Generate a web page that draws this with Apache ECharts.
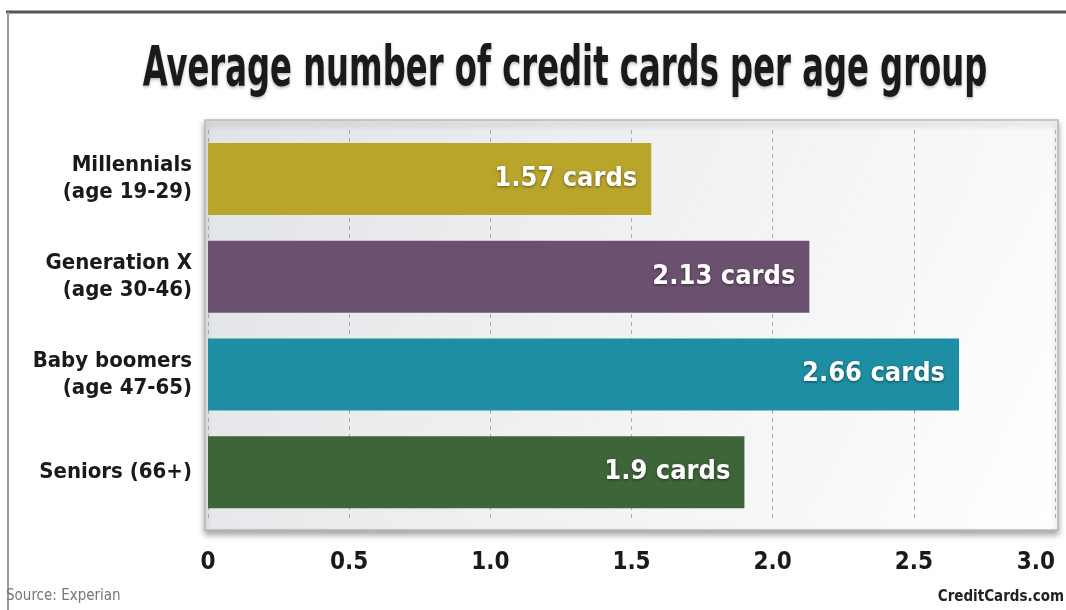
<!DOCTYPE html>
<html><head><meta charset="utf-8">
<script src="https://cdn.jsdelivr.net/npm/echarts@6/dist/echarts.min.js"></script>
<style>html,body{margin:0;padding:0;background:#fff}#c{width:1066px;height:610px}</style>
</head><body><div id="c"></div>
<script>
const categories = ['Millennials\n(age 19-29)', 'Generation X\n(age 30-46)', 'Baby boomers\n(age 47-65)', 'Seniors (66+)'];
const values = [1.57, 2.13, 2.66, 1.9];
const barColors = ['#baa52b', '#6c5070', '#1d8ea3', '#3e6439'];
const tickLabels = ['0', '0.5', '1.0', '1.5', '2.0', '2.5', '3.0'];
const titleText = 'Average number of credit cards per age group';
const FONT = "'DejaVu Sans Condensed','Liberation Sans Narrow',sans-serif";

const chart = echarts.init(document.getElementById('c'));
chart.setOption({
  backgroundColor: '#fff',
  animation: false,
  graphic: [
    { type: 'line', shape: { x1: 6, y1: 12, x2: 1066, y2: 12 }, style: { stroke: '#555', lineWidth: 3 }, z: 0 },
    { type: 'line', shape: { x1: 8, y1: 12, x2: 8, y2: 610 }, style: { stroke: '#999', lineWidth: 2 }, z: 0 },
    { type: 'text', x: 565, y: 70, scaleX: 0.64, scaleY: 1,
      style: { text: titleText, fontFamily: FONT, fontWeight: 'bold', fontSize: 56, fill: '#1a1a1a',
        textAlign: 'center', textVerticalAlign: 'middle',
        textShadowColor: 'rgba(0,0,0,0.25)', textShadowBlur: 3, textShadowOffsetY: 2 }, z: 5 },
    { type: 'rect', shape: { x: 205, y: 120, width: 853, height: 410 },
      style: { fill: { type: 'linear', x: 0, y: 0, x2: 1, y2: 1,
        colorStops: [{ offset: 0, color: '#e1e4e7' }, { offset: 0.6, color: '#f3f4f5' }, { offset: 1, color: '#ffffff' }] },
        stroke: '#b8b8b8', lineWidth: 1.5, shadowColor: 'rgba(0,0,0,0.35)', shadowBlur: 6, shadowOffsetY: 4 },
      z: -10, silent: true },
    { type: 'text', left: 6, top: 589, style: { text: 'Source: Experian', fontFamily: FONT, fontSize: 15, fill: '#777' } },
    { type: 'text', right: 2, top: 590, style: { text: 'CreditCards.com', fontFamily: FONT, fontSize: 15, fontWeight: 'bold', fill: '#222' } }
  ],
  grid: { left: 208, right: 11, top: 130, bottom: 89, outerBoundsMode: 'none', containLabel: false },
  xAxis: {
    type: 'value', min: 0, max: 3, interval: 0.5,
    axisLine: { show: false }, axisTick: { show: false },
    axisLabel: { margin: 30, fontFamily: FONT, fontWeight: 'bold', fontSize: 24, color: '#1a1a1a',
      alignMaxLabel: 'right',
      formatter: (v) => tickLabels[Math.round(v * 2)] },
    splitLine: { show: true, lineStyle: { color: '#aaa', type: [4, 4], width: 1 } }
  },
  yAxis: {
    type: 'category', data: categories, inverse: true,
    axisLine: { show: false }, axisTick: { show: false },
    axisLabel: { margin: 16, fontFamily: FONT, fontWeight: 'bold', fontSize: 22, lineHeight: 27, color: '#1a1a1a', align: 'right' }
  },
  series: [{
    type: 'bar', barWidth: 72,
    data: values.map((v, i) => ({ value: v, itemStyle: { color: barColors[i] } })),
    label: { show: true, position: 'insideRight', distance: 14, fontFamily: FONT, fontWeight: 'bold', fontSize: 27,
      color: '#fff', formatter: (p) => p.value + ' cards',
      textShadowColor: 'rgba(0,0,0,0.5)', textShadowBlur: 3, textShadowOffsetY: 1 }
  }]
});
</script></body></html>
